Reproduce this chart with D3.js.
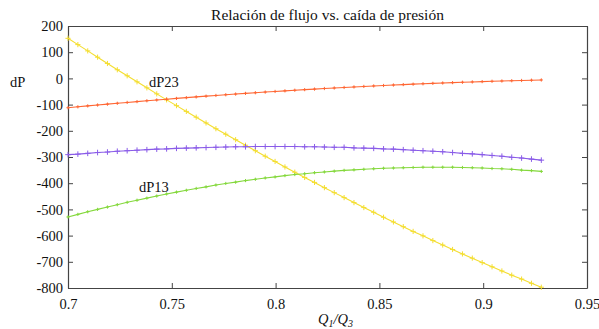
<!DOCTYPE html>
<html>
<head>
<meta charset="utf-8">
<script src="https://cdn.jsdelivr.net/npm/d3@7"></script>
<style>
  html, body { margin: 0; padding: 0; background: #fff; }
  svg { display: block; }
  svg text { font-family: "Liberation Serif", "Times New Roman", Times, "DejaVu Serif", serif; }
</style>
</head>
<body>
<svg id="chart" width="599" height="329"></svg>
<script>
// Q1/Q3 flow ratio
const flowRatio = [
  0.70000, 0.70475, 0.70950, 0.71425, 0.71900, 0.72375, 0.72850, 0.73325, 0.73800, 0.74275,
  0.74750, 0.75225, 0.75700, 0.76175, 0.76650, 0.77125, 0.77600, 0.78075, 0.78550, 0.79025,
  0.79500, 0.79975, 0.80450, 0.80925, 0.81400, 0.81875, 0.82350, 0.82825, 0.83300, 0.83775,
  0.84250, 0.84725, 0.85200, 0.85675, 0.86150, 0.86625, 0.87100, 0.87575, 0.88050, 0.88525,
  0.89000, 0.89475, 0.89950, 0.90425, 0.90900, 0.91375, 0.91850, 0.92325, 0.92800
];

// pressure drops
const dP12 = [
  153, 129, 105, 81, 57, 33, 10, -13, -36, -59,
  -82, -104, -126, -148, -170, -192, -213, -234, -255, -276,
  -297, -317, -338, -358, -378, -397, -417, -436, -455, -474,
  -493, -511, -530, -548, -566, -584, -601, -619, -636, -653,
  -670, -686, -703, -719, -735, -751, -766, -782, -797
];
const dP23 = [
  -112, -108.5, -105, -101.6, -98.3, -95, -91.7, -88.5, -85.4, -82.3,
  -79.3, -76.4, -73.5, -70.6, -67.8, -65.1, -62.4, -59.8, -57.2, -54.7,
  -52.2, -49.8, -47.5, -45.2, -42.9, -40.8, -38.6, -36.6, -34.6, -32.6,
  -30.7, -28.8, -27.1, -25.3, -23.6, -22, -20.5, -18.9, -17.5, -16.1,
  -14.7, -13.5, -12.2, -11, -9.9, -8.9, -7.9, -6.9, -6
];
const dPsum = [
  -291, -289, -286, -283, -281, -278, -276, -274, -272, -270,
  -269, -267, -266, -265, -264, -263, -262, -261, -261, -260,
  -260, -260, -260, -260, -261, -261, -262, -263, -263, -265,
  -266, -267, -269, -270, -272, -274, -276, -278, -280, -283,
  -286, -288, -291, -294, -297, -301, -304, -308, -312
];
const dP13 = [
  -529, -519, -509, -500, -491, -482, -473, -465, -457, -449,
  -441, -434, -427, -420, -414, -407, -401, -396, -390, -385,
  -380, -376, -371, -367, -364, -360, -357, -354, -351, -349,
  -347, -345, -343, -342, -341, -340, -339, -339, -339, -339,
  -340, -341, -342, -344, -345, -347, -350, -352, -355
];

const xTicks = [0.7, 0.75, 0.8, 0.85, 0.9, 0.95];
const yTicks = [200, 100, 0, -100, -200, -300, -400, -500, -600, -700, -800];

const series = [
  { name: "dP12", values: dP12, color: "#f4de30", mark: 2.6 },
  { name: "dP23", values: dP23, color: "#ff6633", mark: 1.6 },
  { name: "dPsum", values: dPsum, color: "#8a5ce8", mark: 2.8 },
  { name: "dP13", values: dP13, color: "#84d83c", mark: 1.6 }
];

const svg = d3.select("#chart");
const plotLeft = 68, plotRight = 587, plotTop = 26, plotBottom = 288;

const x = d3.scaleLinear().domain([0.7, 0.95]).range([plotLeft, plotRight]);
const y = d3.scaleLinear().domain([-800, 200]).range([plotBottom, plotTop]);

const tickLen = 5;
const axisColor = "#444";
const serif = '"Liberation Serif", "Times New Roman", Times, "DejaVu Serif", serif';

// axes with inward ticks on every side
const axB = svg.append("g").attr("transform", `translate(0,${plotBottom})`)
  .call(d3.axisBottom(x).tickValues(xTicks).tickSizeInner(-tickLen).tickSizeOuter(0).tickPadding(11).tickFormat(d => String(d)));
const axT = svg.append("g").attr("transform", `translate(0,${plotTop})`)
  .call(d3.axisTop(x).tickValues(xTicks).tickSizeInner(-tickLen).tickSizeOuter(0).tickFormat(""));
const axL = svg.append("g").attr("transform", `translate(${plotLeft},0)`)
  .call(d3.axisLeft(y).tickValues(yTicks).tickSizeInner(-tickLen).tickSizeOuter(0).tickPadding(5).tickFormat(d => String(d)));
const axR = svg.append("g").attr("transform", `translate(${plotRight},0)`)
  .call(d3.axisRight(y).tickValues(yTicks).tickSizeInner(-tickLen).tickSizeOuter(0).tickFormat(""));

[axB, axT, axL, axR].forEach(g => {
  g.attr("font-family", serif).attr("font-size", 14.5);
  g.select(".domain").attr("stroke", axisColor).attr("stroke-width", 1.2);
  g.selectAll(".tick line").attr("stroke", axisColor);
  g.selectAll("text").attr("fill", "#111");
});

// series lines with '+' markers
const line = d3.line().x((d, i) => x(flowRatio[i])).y(d => y(d));
series.forEach(s => {
  svg.append("path").datum(s.values)
    .attr("d", line).attr("fill", "none")
    .attr("stroke", s.color).attr("stroke-width", 1.1);
  const m = s.mark;
  svg.append("g").selectAll("path").data(s.values).join("path")
    .attr("d", (d, i) => {
      const cx = x(flowRatio[i]), cy = y(d);
      return `M${cx - m},${cy}H${cx + m}M${cx},${cy - m}V${cy + m}`;
    })
    .attr("stroke", s.color).attr("stroke-width", 1);
});

// title and labels
const labels = svg.append("g").attr("font-family", serif).attr("fill", "#111");

labels.append("text").attr("x", (plotLeft + plotRight) / 2).attr("y", 20)
  .attr("text-anchor", "middle").attr("font-size", 15.5)
  .text("Relación de flujo vs. caída de presión");

labels.append("text").attr("x", 10).attr("y", 87)
  .attr("font-size", 14.5).text("dP");

labels.append("text").attr("x", x(0.739)).attr("y", y(-33))
  .attr("font-size", 14.5).text("dP23");
labels.append("text").attr("x", x(0.7342)).attr("y", y(-434))
  .attr("font-size", 14.5).text("dP13");

const xl = labels.append("text").attr("x", 318).attr("y", 324)
  .attr("font-size", 14.5).attr("font-style", "italic");
xl.append("tspan").text("Q");
xl.append("tspan").attr("font-size", 10).attr("dy", 3).text("1");
xl.append("tspan").attr("dy", -3).text("/Q");
xl.append("tspan").attr("font-size", 10).attr("dy", 3).text("3");
</script>
</body>
</html>
